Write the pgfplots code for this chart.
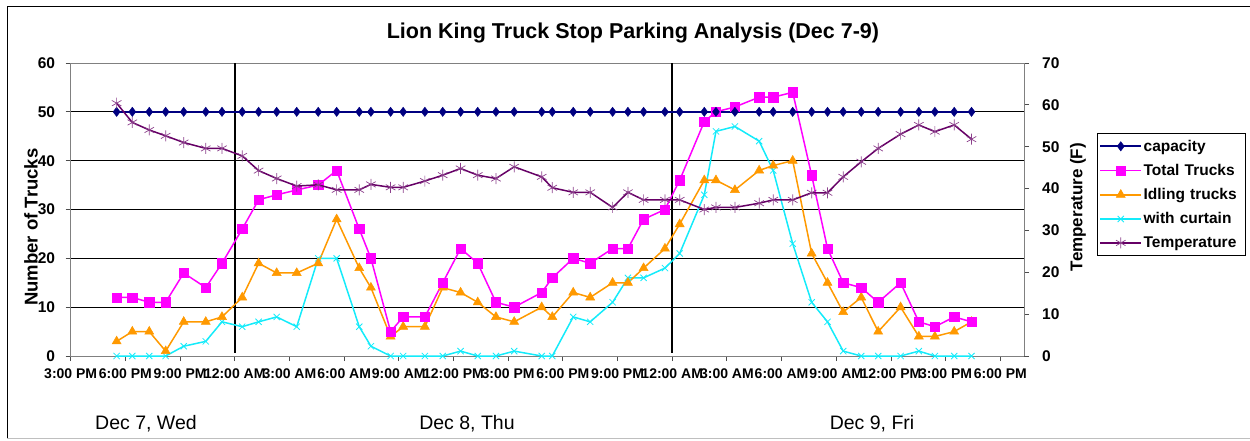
\documentclass[border=0pt]{standalone}
\usepackage{fontspec}
\setmainfont{Liberation Sans}
\usepackage{pgfplots}
\pgfplotsset{compat=1.18}
\usepackage{pgfplotstable}
\definecolor{capc}{RGB}{0,0,128}
\definecolor{totc}{RGB}{255,0,255}
\definecolor{idlc}{RGB}{255,153,0}
\definecolor{curc}{RGB}{20,235,250}
\definecolor{tmpc}{RGB}{102,0,102}
\definecolor{bordc}{RGB}{128,128,128}

\pgfplotstableread{
h     cap tot idl cur tmp
2.52  50  12  3   0   60.4
3.38  50  12  5   0   55.8
4.31  50  11  5   0   54.0
5.21  50  11  1   0   52.6
6.20  50  17  7   2   51.0
7.41  50  14  7   3   49.6
8.30  50  19  8   7   49.6
9.41  50  26  12  6   47.8
10.31 50  32  19  7   44.3
11.30 50  33  17  8   42.4
12.40 50  34  17  6   40.6
13.58 50  35  19  20  40.9
14.59 50  38  28  20  39.7
15.83 50  26  18  6   39.7
16.47 50  20  14  2   41.0
17.55 50  5   4   0   40.3
18.24 50  8   6   0   40.3
19.43 50  8   6   0   41.8
20.41 50  15  14  0   43.2
21.39 50  22  13  1   44.8
22.33 50  19  11  0   43.2
23.33 50  11  8   0   42.4
24.33 50  10  7   1   45.2
25.84 50  13  10  0   42.8
26.42 50  16  8   0   40.2
27.57 50  20  13  8   39.1
28.50 50  19  12  7   39.1
29.73 50  22  15  11  35.5
30.57 50  22  15  16  39.1
31.43 50  28  18  16  37.3
32.60 50  30  22  18  37.3
33.41 50  36  27  21  37.3
34.76 50  48  36  33  35.0
35.40 50  50  36  46  35.5
36.44 50  51  34  47  35.5
37.77 50  53  38  44  36.5
38.54 50  53  39  38  37.3
39.61 50  54  40  23  37.3
40.65 50  37  21  11  39.0
41.52 50  22  15  7   39.0
42.38 50  15  9   1   42.8
43.37 50  14  12  0   46.4
44.30 50  11  5   0   49.6
45.53 50  15  10  0   53.0
46.53 50  7   4   1   55.2
47.41 50  6   4   0   53.6
48.47 50  8   5   0   55.2
49.42 50  7   7   0   51.8
}\data

\pgfplotsset{
  capstyle/.style={capc, line width=1.7pt, mark=diamond*, mark size=4.6pt, mark options={solid, fill=capc, line width=0.5pt}},
  totstyle/.style={totc, line width=1.5pt, mark=square*, mark size=4.6pt, mark options={solid, fill=totc, line width=0.5pt}},
  idlstyle/.style={idlc, line width=1.5pt, mark=triangle*, mark size=5.2pt, mark options={solid, fill=idlc, line width=0.5pt}},
  curstyle/.style={curc, line width=1.5pt, mark=x, mark size=4.4pt, mark options={solid, line width=0.8pt}},
  tmpstyle/.style={tmpc, line width=1.5pt, mark=asterisk, mark size=5.5pt, mark options={solid, line width=0.7pt, draw=tmpc!75}},
  every axis/.append style={
    scale only axis, width=953.3pt, height=293pt,
    at={(70.7pt,84pt)}, anchor=south west,
    xmin=0, xmax=52.3,
    axis line style={bordc, line width=0.8pt},
    tick style={black!70, line width=0.8pt},
    major tick length=5pt,
    tick align=outside,
    /pgf/number format/assume math mode=true,
    legend image code/.code={\draw[mark repeat=2, mark phase=2] plot coordinates {(0pt,0pt) (20.5pt,0pt) (41pt,0pt)};},
  },
}

\begin{document}
\begin{tikzpicture}[x=1pt,y=1pt]
\useasboundingbox (0,0) rectangle (1250,440);
\draw[black, line width=1pt] (7,1.5) -- (7,433) -- (1250,433);
\draw[black!25, line width=1pt] (7,1.5) -- (1250,1.5);

\begin{axis}[
  ymin=0, ymax=60,
  xtick={0,3,...,51},
  xticklabels={3:00 PM,6:00 PM,9:00 PM,12:00 AM,3:00 AM,6:00 AM,9:00 AM,12:00 PM,3:00 PM,6:00 PM,9:00 PM,12:00 AM,3:00 AM,6:00 AM,9:00 AM,12:00 PM,3:00 PM,6:00 PM},
  xtick pos=bottom,
  ytick={0,10,...,60},
  ytick pos=left,
  ymajorgrids, grid style={black, line width=0.8pt},
  xticklabel style={font=\bfseries\fontsize{14}{14}\selectfont, inner sep=0pt, yshift=-7.5pt},
  yticklabel style={font=\bfseries\fontsize{15.5}{15.5}\selectfont, inner sep=0pt, xshift=-10.5pt},
  ylabel={Number of Trucks},
  ylabel style={at={(axis description cs:-0.0415,0.44)}, anchor=center, font=\bfseries\fontsize{18.5}{18.5}\selectfont},
  title={Lion King Truck Stop Parking Analysis (Dec 7-9)},
  title style={at={(axis description cs:0.5898,1.082)}, anchor=center, font=\bfseries\fontsize{21.5}{21.5}\selectfont},
]
\addplot[black, line width=1.5pt, forget plot] coordinates {(9,0.7) (9,60)};
\addplot[black, line width=1.5pt, forget plot] coordinates {(33,0.7) (33,60)};
\addplot[curstyle] table[x=h, y=cur] {\data};
\addplot[idlstyle] table[x=h, y=idl] {\data};
\addplot[totstyle] table[x=h, y=tot] {\data};
\addplot[capstyle] table[x=h, y=cap] {\data};
\end{axis}

\begin{axis}[
  ymin=0, ymax=70,
  axis x line=none,
  axis y line*=right,
  ytick={0,10,...,70},
  yticklabel style={font=\bfseries\fontsize{15.5}{15.5}\selectfont, inner sep=0pt, xshift=13pt},
  ylabel={Temperature (F)},
  ylabel style={at={(axis description cs:1.0566,0.5085)}, anchor=center, rotate=0, font=\bfseries\fontsize{17}{17}\selectfont},
  legend style={at={(1.0766,0.761)}, anchor=north west, draw=black, line width=0.8pt,
    font=\bfseries\fontsize{15.5}{15.5}\selectfont, inner xsep=2pt, inner ysep=5pt, row sep=8.5pt,
    nodes={inner sep=1.5pt, text width=98pt}, cells={anchor=west}},
  legend cell align=left,
]
\addlegendimage{capstyle}\addlegendentry{capacity}
\addlegendimage{totstyle}\addlegendentry{Total Trucks}
\addlegendimage{idlstyle}\addlegendentry{Idling trucks}
\addlegendimage{curstyle}\addlegendentry{with curtain}
\addplot[tmpstyle] table[x=h, y=tmp] {\data};
\addlegendentry{Temperature}
\end{axis}

\node[font=\fontsize{19.5}{19.5}\selectfont] at (146,16) {Dec 7, Wed};
\node[font=\fontsize{19.5}{19.5}\selectfont] at (467,16) {Dec 8, Thu};
\node[font=\fontsize{19.5}{19.5}\selectfont] at (872,16) {Dec 9, Fri};
\end{tikzpicture}
\end{document}
